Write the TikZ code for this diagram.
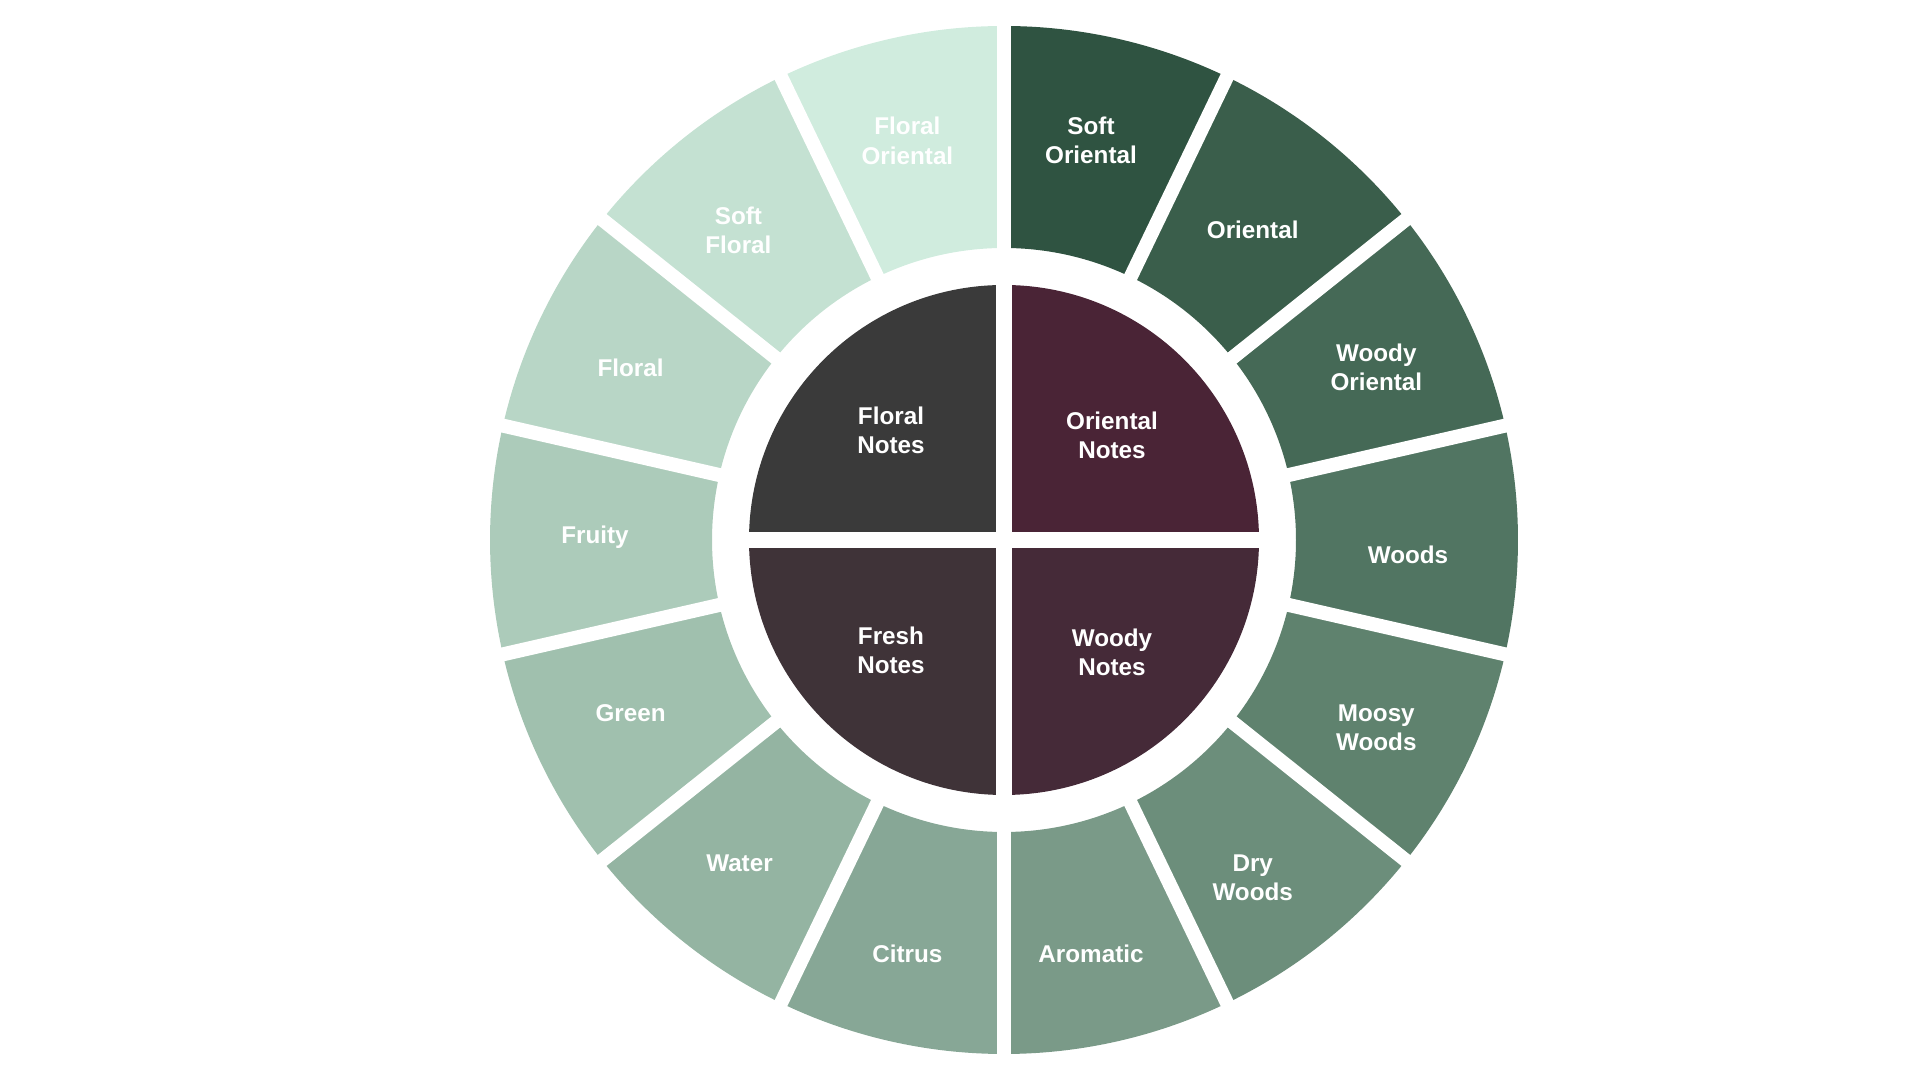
\documentclass[tikz,border=0pt]{standalone}
\usepackage{fontspec}
\setmainfont{Liberation Sans}
\usepackage{tikz}
\usetikzlibrary{calc}
\definecolor{sOriental}{HTML}{2F5341}
\definecolor{oriental}{HTML}{3A5E4B}
\definecolor{wOriental}{HTML}{456956}
\definecolor{woods}{HTML}{517562}
\definecolor{mWoods}{HTML}{5F826E}
\definecolor{dWoods}{HTML}{6C8E7B}
\definecolor{aromatic}{HTML}{7A9A88}
\definecolor{citrus}{HTML}{87A796}
\definecolor{water}{HTML}{94B4A2}
\definecolor{green}{HTML}{A0C0AE}
\definecolor{fruity}{HTML}{ACCBBA}
\definecolor{floral}{HTML}{B8D6C6}
\definecolor{sFloral}{HTML}{C4E1D2}
\definecolor{fOriental}{HTML}{D0ECDE}
\definecolor{floralNotes}{HTML}{3A3A3A}
\definecolor{orientalNotes}{HTML}{4A2436}
\definecolor{freshNotes}{HTML}{3F3338}
\definecolor{woodyNotes}{HTML}{452A38}

\begin{document}
\begin{tikzpicture}[
  seglabel/.style={
    text=white, align=center, inner sep=0pt, text depth=0pt,
    font=\fontsize{6.9}{8.3}\selectfont\bfseries,
  },
  ringgap/.style={white, line width=1.4mm},
  quadgap/.style={white, line width=1.6mm},
]
  \useasboundingbox (0,0) rectangle (19.2,10.8);
  \coordinate (c) at (10.04,5.40);

  \begin{scope}[shift={(c)}]
  % outer ring, 14 families
  \foreach \txt/\col/\lx/\ly [count=\i from 0] in {
      {Soft\\Oriental}/sOriental/0.87/3.995,
      Oriental/oriental/2.487/3.098,
      {Woody\\Oriental}/wOriental/3.723/1.726,
      Woods/woods/4.04/-0.15,
      {Moosy\\Woods}/mWoods/3.723/-1.874,
      {Dry\\Woods}/dWoods/2.487/-3.38,
      Aromatic/aromatic/0.87/-4.135,
      Citrus/citrus/-0.966/-4.139,
      Water/water/-2.645/-3.235,
      Green/green/-3.734/-1.727,
      Fruity/fruity/-4.09/0.05,
      Floral/floral/-3.734/1.726,
      {Soft\\Floral}/sFloral/-2.656/3.098,
      {Floral\\Oriental}/fOriental/-0.966/3.992}{
    \pgfmathsetmacro\s{90-\i*360/14}
    \pgfmathsetmacro\e{\s-360/14}
    \fill[\col] (\s:2.92) arc[start angle=\s, end angle=\e, radius=2.92]
      -- (\e:5.14) arc[start angle=\e, end angle=\s, radius=5.14] -- cycle;
    \node[seglabel] (seg\i) at (\lx,\ly) {\txt};
  }
  \foreach \k in {0,...,13}
    \draw[ringgap] ({90-\k*360/14}:2.8) -- ({90-\k*360/14}:5.3);

  % inner quadrants
  \fill[floralNotes] (0,0) -- (90:2.55) arc[start angle=90, end angle=180, radius=2.55] -- cycle;
  \fill[orientalNotes] (0,0) -- (0:2.55) arc[start angle=0, end angle=90, radius=2.55] -- cycle;
  \fill[freshNotes] (0,0) -- (180:2.55) arc[start angle=180, end angle=270, radius=2.55] -- cycle;
  \fill[woodyNotes] (0,0) -- (270:2.55) arc[start angle=270, end angle=360, radius=2.55] -- cycle;
  \draw[quadgap] (-2.7,0) -- (2.7,0);
  \draw[quadgap] (0,-2.7) -- (0,2.7);

  \node[seglabel] (floralN) at (-1.13,1.1) {Floral\\Notes};
  \node[seglabel] (orientalN) at (1.08,1.05) {Oriental\\Notes};
  \node[seglabel] (freshN) at (-1.13,-1.1) {Fresh\\Notes};
  \node[seglabel] (woodyN) at (1.08,-1.12) {Woody\\Notes};
  \end{scope}
\end{tikzpicture}
\end{document}
